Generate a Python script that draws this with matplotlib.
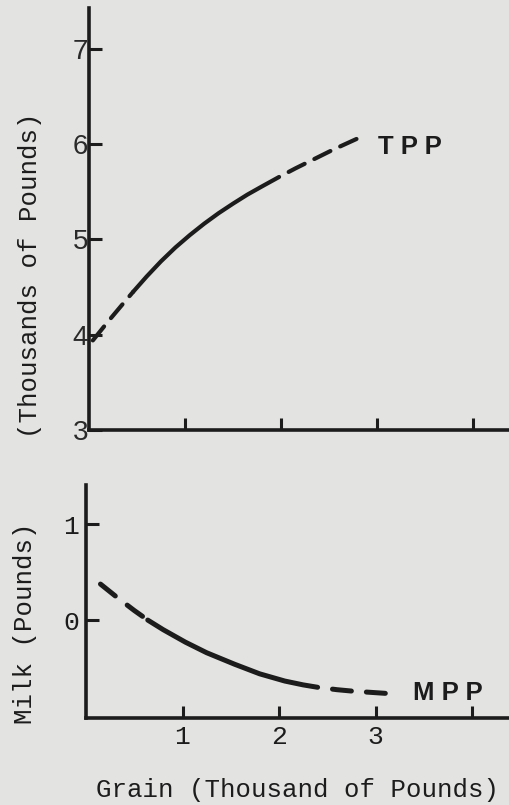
import matplotlib
matplotlib.use("Agg")
import matplotlib.pyplot as plt

# values
tpp_x = [0.04, 0.20, 0.35, 0.46, 0.60, 0.75, 0.90, 1.05, 1.20, 1.35,
         1.50, 1.65, 1.80, 1.98, 2.15, 2.33, 2.55, 2.80]
tpp_y = [3.94, 4.14, 4.32, 4.45, 4.61, 4.77, 4.915, 5.045, 5.165, 5.275,
         5.375, 5.47, 5.555, 5.655, 5.745, 5.835, 5.945, 6.06]
tpp_solid = (3, 13)   # index range drawn solid, the rest dashed

mpp_x = [0.15, 0.33, 0.50, 0.64, 0.80, 1.03, 1.25, 1.54, 1.80, 2.06,
         2.25, 2.40, 2.60, 2.76, 3.13]
mpp_y = [0.375, 0.23, 0.10, 0.00, -0.10, -0.23, -0.34, -0.46, -0.56, -0.635,
         -0.675, -0.70, -0.725, -0.74, -0.765]
mpp_solid = (3, 11)

top_yticks = [3, 4, 5, 6, 7]
bot_yticks = [0, 1]
xticks = [1, 2, 3, 4]
xtick_labels = ["1", "2", "3", ""]

BG = "#e3e3e1"
INK = "#1c1c1c"
MONO = "Liberation Mono"
SANS = "Liberation Sans"

fig = plt.figure(figsize=(5.10, 8.05), dpi=100, facecolor=BG)

W, H = 510.0, 805.0
ax1 = fig.add_axes([89 / W, (H - 430) / H, (W - 89) / W, 422 / H])
ax2 = fig.add_axes([86 / W, (H - 718) / H, (W - 86) / W, 233 / H])


def draw_curve(ax, xs, ys, solid, lw, on, off):
    a, b = solid
    common = dict(color=INK, lw=lw, dash_capstyle="round", solid_capstyle="round")
    # leading dashes start with a dash, trailing ones start with a gap
    ax.plot(xs[:a + 1], ys[:a + 1], linestyle=(0, (on, off)), **common)
    ax.plot(xs[a:b + 1], ys[a:b + 1], linestyle="-", solid_joinstyle="round", **common)
    ax.plot(xs[b:], ys[b:], linestyle=(on, (on, off)), **common)


for ax in (ax1, ax2):
    ax.set_facecolor(BG)
    for s in ("top", "right"):
        ax.spines[s].set_visible(False)
    for s in ("left", "bottom"):
        ax.spines[s].set_linewidth(2.6)
        ax.spines[s].set_color(INK)
    ax.tick_params(direction="in", length=9, width=2.2, color=INK)
    ax.set_xticks(xticks)

# top panel: total physical product
ax1.set_xlim(0, (W - 89) / 96.0)
ax1.set_ylim(3, 3 + 422 / 95.3)
ax1.set_yticks(top_yticks)
ax1.set_yticklabels([str(v) for v in top_yticks], family=SANS, fontsize=20, color="#2a2a2a")
ax1.set_xticklabels([])
ax1.tick_params(axis="y", pad=0.5)
draw_curve(ax1, tpp_x, tpp_y, tpp_solid, 3.0, 4.3, 2.6)
ax1.text(3.01, 5.97, "T P P", family=SANS, fontweight="bold", fontsize=18.5,
         color=INK, ha="left", va="center")

# bottom panel: marginal physical product
ax2.set_xlim(0, (W - 86) / 96.5)
ax2.set_ylim(-1.02, -1.02 + 233 / 96.0)
ax2.set_yticks(bot_yticks)
ax2.set_yticklabels([str(v) for v in bot_yticks], family=MONO, fontsize=19, color=INK)
ax2.set_xticklabels(xtick_labels, family=MONO, fontsize=19, color=INK)
ax2.tick_params(axis="y", pad=5)
ax2.tick_params(axis="x", pad=5)
draw_curve(ax2, mpp_x, mpp_y, mpp_solid, 3.6, 3.8, 3.0)
ax2.text(3.39, -0.76, "M P P", family=SANS, fontweight="bold", fontsize=18.5,
         color=INK, ha="left", va="center")

fig.text(30 / W, (H - 275) / H, "(Thousands of Pounds)", family=MONO, fontsize=18.5,
         rotation=90, ha="center", va="center", color=INK)
fig.text(25 / W, (H - 623) / H, "Milk (Pounds)", family=MONO, fontsize=18.5,
         rotation=90, ha="center", va="center", color=INK)
fig.text(298 / W, (H - 790) / H, "Grain (Thousand of Pounds)", family=MONO, fontsize=18.5,
         ha="center", va="center", color=INK)

fig.savefig("out.png", dpi=100, facecolor=BG)
